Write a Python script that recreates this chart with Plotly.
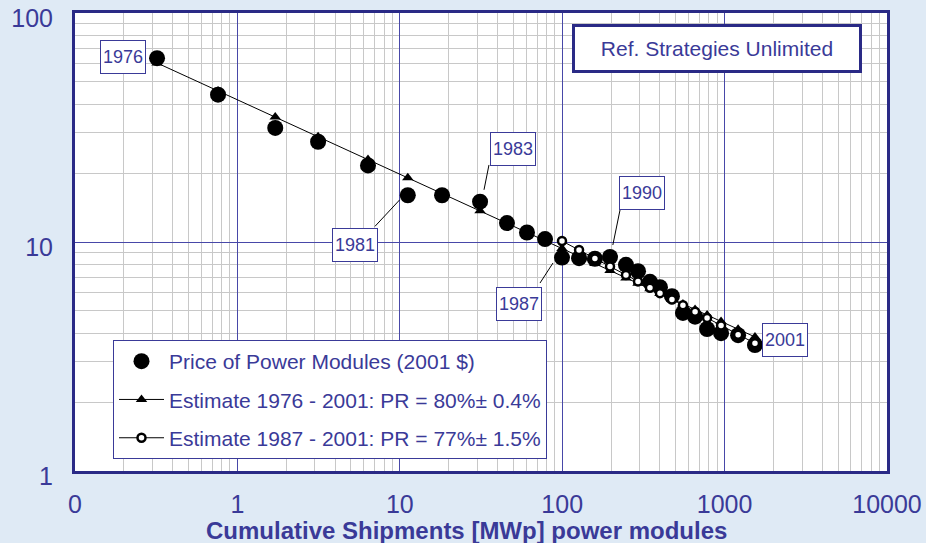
import plotly.graph_objects as go

# ---------------- data ----------------
years = list(range(1976, 2002))
shipments_mwp = [0.32, 0.76, 1.71, 3.14, 6.37, 11.2, 18.2, 31.2, 45.7, 60.7,
                 78.4, 99.7, 127, 159, 197, 247, 293, 347, 400, 474,
                 554, 658, 780, 951, 1211, 1538]
price_2001usd = [63.5, 44.0, 31.5, 27.4, 21.6, 16.0, 16.0, 15.0, 12.1, 11.0,
                 10.3, 8.55, 8.5, 8.45, 8.6, 7.95, 7.45, 6.7, 6.35, 5.8,
                 4.9, 4.72, 4.17, 4.0, 3.92, 3.55]
est_1976_2001 = [60.5, 45.7, 35.1, 28.8, 22.9, 19.1, 16.3, 13.7, 12.1, 11.0,
                 10.1, 9.36, 8.65, 8.05, 7.51, 6.97, 6.60, 6.25, 5.96, 5.64,
                 5.36, 5.07, 4.80, 4.50, 4.16, 3.85]
shipments_1987_2001 = [99.7, 127, 159, 197, 247, 293, 347, 400, 474,
                       554, 658, 780, 951, 1211, 1538]
est_1987_2001 = [10.1, 9.22, 8.48, 7.82, 7.18, 6.73, 6.31, 5.98, 5.61,
                 5.29, 4.96, 4.66, 4.32, 3.94, 3.61]

x_tickvals = [0.1, 1, 10, 100, 1000, 10000]
x_ticktext = ["0", "1", "10", "100", "1000", "10000"]
y_tickvals = [1, 10, 100]
y_ticktext = ["1", "10", "100"]

series_names = ["Price of Power Modules (2001 $)",
                "Estimate 1976 - 2001: PR = 80%\u00b1 0.4%",
                "Estimate 1987 - 2001: PR = 77%\u00b1 1.5%"]

# callout year labels: (text, log10 x, log10 y)
callouts = [("1976", -0.704, 1.810), ("1981", 0.724, 0.987),
            ("1983", 1.697, 1.408), ("1987", 1.734, 0.729),
            ("1990", 2.491, 1.214), ("2001", 3.372, 0.572)]
# leader lines (x pair, y pair)
leaders = [([7.03, 10.0], [11.7, 15.3]),
           ([33.0, 35.4], [16.9, 21.7]),
           ([73.0, 87.8], [6.62, 8.1]),
           ([205, 227], [9.7, 13.8])]

NAVY = "#3a3a98"
BORDER = "#2a2a86"
FONT = "Liberation Sans, Arial, sans-serif"

fig = go.Figure()

fig.add_trace(go.Scatter(
    x=shipments_mwp, y=price_2001usd, mode="markers", name=series_names[0],
    marker=dict(symbol="circle", size=16, color="black"),
    legendgroup="a"))
fig.add_trace(go.Scatter(
    x=shipments_mwp, y=est_1976_2001, mode="lines+markers", name=series_names[1],
    line=dict(color="black", width=1),
    marker=dict(symbol="triangle-up", size=10, color="black"),
    legendgroup="b"))
fig.add_trace(go.Scatter(
    x=shipments_1987_2001, y=est_1987_2001, mode="lines+markers", name=series_names[2],
    line=dict(color="black", width=1),
    marker=dict(symbol="circle", size=8, color="white",
                line=dict(color="black", width=2.5)),
    legendgroup="c"))

for lx, ly in leaders:
    fig.add_trace(go.Scatter(x=lx, y=ly, mode="lines", showlegend=False,
                             hoverinfo="skip",
                             line=dict(color="black", width=1)))

annotations = []
for txt, ax_, ay_ in callouts:
    annotations.append(dict(
        x=ax_, y=ay_, xref="x", yref="y", text=txt, showarrow=False,
        font=dict(family=FONT, size=18, color=NAVY),
        bgcolor="white", bordercolor=NAVY, borderwidth=1, borderpad=0,
        width=44, height=32, xanchor="center", yanchor="middle"))

annotations.append(dict(
    x=2.953, y=1.845, xref="x", yref="y", text="Ref. Strategies Unlimited",
    showarrow=False, font=dict(family=FONT, size=21, color=NAVY),
    bgcolor="white", bordercolor=BORDER, borderwidth=3, borderpad=0,
    width=284, height=43, xanchor="center", yanchor="middle"))

annotations.append(dict(
    x=(466 - 75) / 812, y=(471 - 530) / 458, xref="paper", yref="paper",
    text="<b>Cumulative Shipments [MWp] power modules</b>", showarrow=False,
    font=dict(family=FONT, size=24, color=NAVY),
    xanchor="center", yanchor="middle"))

fig.update_layout(
    width=926, height=543,
    margin=dict(l=75, r=39, t=13, b=72, autoexpand=False),
    paper_bgcolor="#dfeaf5", plot_bgcolor="white",
    font=dict(family=FONT, color=NAVY),
    showlegend=True,
    legend=dict(x=(113 - 75) / 812, y=(471 - 340) / 458,
                xanchor="left", yanchor="top",
                bgcolor="white", bordercolor=NAVY, borderwidth=1,
                font=dict(family=FONT, size=21, color=NAVY),
                tracegroupgap=8, itemwidth=45),
    annotations=annotations,
)

fig.update_xaxes(
    type="log", range=[-1, 4], tickvals=x_tickvals, ticktext=x_ticktext,
    showgrid=True, gridcolor="#4848a8", gridwidth=1,
    minor=dict(dtick="D1", showgrid=True, gridcolor="#c8c8c8", gridwidth=1, ticks=""),
    showline=True, linecolor=BORDER, linewidth=3, mirror=True,
    ticks="", ticklabelstandoff=9, zeroline=False, automargin=False,
    ticklabeloverflow="allow",
    tickfont=dict(family=FONT, size=25, color=NAVY))
fig.update_yaxes(
    type="log", range=[0, 2], tickvals=y_tickvals, ticktext=y_ticktext,
    showgrid=True, gridcolor="#4848a8", gridwidth=1,
    minor=dict(dtick="D1", showgrid=True, gridcolor="#c8c8c8", gridwidth=1, ticks=""),
    showline=True, linecolor=BORDER, linewidth=3, mirror=True,
    ticks="", ticklabelstandoff=14, ticklabelshift=5, zeroline=False,
    automargin=False, ticklabeloverflow="allow",
    tickfont=dict(family=FONT, size=25, color=NAVY))

fig.write_html("out.html",
               config={"displayModeBar": False},
               post_script="document.body.style.margin='0';"
                           "document.body.style.overflow='hidden';")
